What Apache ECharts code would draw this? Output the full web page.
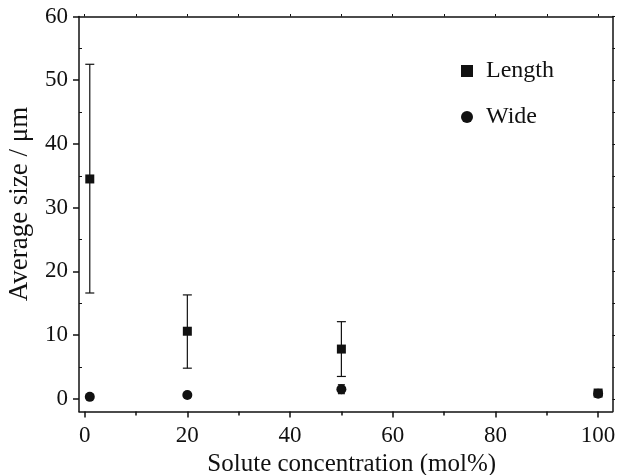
<!DOCTYPE html>
<html><head><meta charset="utf-8">
<script src="https://cdn.jsdelivr.net/npm/echarts@6/dist/echarts.min.js"></script>
<style>html,body{margin:0;padding:0;background:#fff}#c{width:617px;height:475px}</style>
</head><body><div id="c"></div>
<script>
// Data
const concentration = [1, 20, 50, 100];
const lengthMean = [34.5, 10.6, 7.8, 0.9];
const lengthLow  = [16.6, 4.8, 3.5, 0.6];
const lengthHigh = [52.5, 16.3, 12.1, 1.2];
const wideMean = [0.3, 0.6, 1.5, 0.8];
const wideLow  = [0.1, 0.2, 0.8, 0.5];
const wideHigh = [0.5, 1.0, 2.2, 1.1];
const xMajorTicks = [0, 20, 40, 60, 80, 100];
const xMinorTicks = [10, 30, 50, 70, 90];
const xTopTicks = [0, 10, 20, 30, 40, 50, 60, 70, 80, 90, 100];
const yMajorTicks = [0, 10, 20, 30, 40, 50, 60];
const yMinorTicks = [5, 15, 25, 35, 45, 55];
const yRightTicks = [0, 5, 10, 15, 20, 25, 30, 35, 40, 45, 50, 55, 60];

const font = 'Liberation Serif';
const ink = '#111';
const xr = {min: -1.1, max: 102.8};
const yr = {min: -2, max: 60};

function errSeries(name, lo, hi, cap) {
  return {
    type: 'custom', name: name + ' err', xAxisIndex: 0, yAxisIndex: 0, z: 1,
    data: concentration.map((x, i) => [x, lo[i], hi[i]]),
    renderItem: function (params, api) {
      const p1 = api.coord([api.value(0), api.value(1)]);
      const p2 = api.coord([api.value(0), api.value(2)]);
      const st = {stroke: ink, lineWidth: 1.2};
      return {type: 'group', children: [
        {type: 'line', shape: {x1: p1[0], y1: p1[1], x2: p2[0], y2: p2[1]}, style: st},
        {type: 'line', shape: {x1: p1[0]-cap, y1: p1[1], x2: p1[0]+cap, y2: p1[1]}, style: st},
        {type: 'line', shape: {x1: p2[0]-cap, y1: p2[1], x2: p2[0]+cap, y2: p2[1]}, style: st}
      ]};
    }
  };
}

const lineStyle = {color: ink, width: 1.5};
const chart = echarts.init(document.getElementById('c'), null, {renderer: 'canvas'});
chart.setOption({
  animation: false,
  backgroundColor: '#fff',
  grid: {left: 79, right: 4.5, top: 16.5, bottom: 63.5, containLabel: false, outerBoundsMode: 'none'},
  legend: {
    orient: 'vertical', left: 456, top: 54, itemGap: 22, itemWidth: 12, itemHeight: 12,
    textStyle: {fontFamily: font, fontSize: 24, color: ink, padding: [0, 0, 0, 8]},
    itemStyle: {opacity: 1},
    data: [{name: 'Length', icon: 'rect'}, {name: 'Wide', icon: 'circle'}]
  },
  xAxis: [
    {type: 'value', position: 'bottom', ...xr,
     name: 'Solute concentration (mol%)', nameLocation: 'middle', nameGap: 37,
     nameTextStyle: {fontFamily: font, fontSize: 25, color: ink, padding: [0, 0, 0, 12]},
     axisLine: {show: true, onZero: false, lineStyle: lineStyle},
     axisTick: {show: true, customValues: xMajorTicks, length: 6, lineStyle: lineStyle},
     axisLabel: {customValues: xMajorTicks, fontFamily: font, fontSize: 23, color: ink, margin: 13},
     splitLine: {show: false}},
    {type: 'value', position: 'bottom', ...xr,
     axisLine: {show: false, onZero: false},
     axisTick: {show: true, customValues: xMinorTicks, length: 4, lineStyle: lineStyle},
     axisLabel: {show: false}, splitLine: {show: false}},
    {type: 'value', position: 'top', ...xr,
     axisLine: {show: true, onZero: false, lineStyle: lineStyle},
     axisTick: {show: true, customValues: xTopTicks, length: 2.5, lineStyle: {color: ink, width: 1}},
     axisLabel: {show: false}, splitLine: {show: false}}
  ],
  yAxis: [
    {type: 'value', position: 'left', ...yr,
     name: 'Average size / μm', nameLocation: 'middle', nameGap: 46,
     nameTextStyle: {fontFamily: font, fontSize: 27, color: ink, padding: [0, 0, 0, 20]},
     axisLine: {show: true, onZero: false, lineStyle: lineStyle},
     axisTick: {show: true, customValues: yMajorTicks, length: 6, lineStyle: lineStyle},
     axisLabel: {customValues: yMajorTicks, fontFamily: font, fontSize: 23, color: ink, margin: 11},
     splitLine: {show: false}},
    {type: 'value', position: 'left', ...yr,
     axisLine: {show: false, onZero: false},
     axisTick: {show: true, inside: true, customValues: yMinorTicks, length: 3, lineStyle: {color: ink, width: 1}},
     axisLabel: {show: false}, splitLine: {show: false}},
    {type: 'value', position: 'right', ...yr,
     axisLine: {show: true, onZero: false, lineStyle: lineStyle},
     axisTick: {show: true, customValues: yRightTicks, length: 2.5, lineStyle: {color: ink, width: 1}},
     axisLabel: {show: false}, splitLine: {show: false}}
  ],
  series: [
    errSeries('Length', lengthLow, lengthHigh, 4.5),
    errSeries('Wide', wideLow, wideHigh, 3.5),
    {type: 'scatter', name: 'Length', xAxisIndex: 0, yAxisIndex: 0, z: 3,
     symbol: 'rect', symbolSize: 9, itemStyle: {color: ink, opacity: 1},
     data: concentration.map((x, i) => [x, lengthMean[i]])},
    {type: 'scatter', name: 'Wide', xAxisIndex: 0, yAxisIndex: 0, z: 3,
     symbol: 'circle', symbolSize: 10, itemStyle: {color: ink, opacity: 1},
     data: concentration.map((x, i) => [x, wideMean[i]])}
  ]
});
</script></body></html>
